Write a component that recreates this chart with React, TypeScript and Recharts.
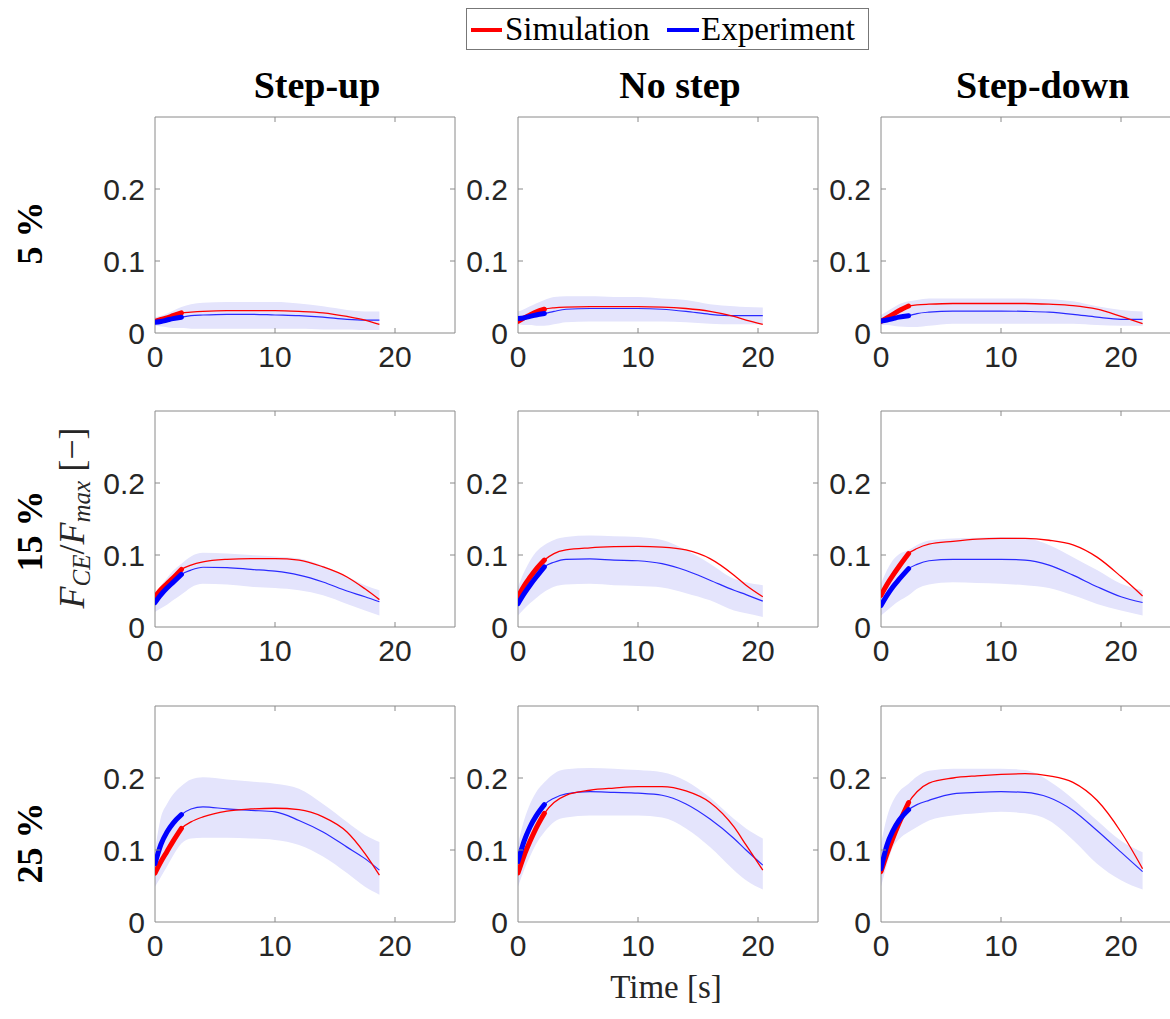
import React from 'react';
import { ComposedChart, Line, Area, XAxis, YAxis, ReferenceArea } from 'recharts';

// time grids per column (s)
const T_UP = [0, 0.5, 1, 1.5, 2.2, 3, 4, 6, 8, 10, 12, 14, 16, 17.5, 18.7];
const T_NO = [0, 0.5, 1, 1.5, 2.2, 3, 4, 6, 8, 10, 12, 14, 16, 18, 19, 20.4];
const T_DOWN = [0, 0.5, 1, 1.5, 2.3, 3, 4, 6, 8, 10, 12, 14, 16, 18, 20, 21.8];

// 5 %
const SIM_UP_5 = [0.016, 0.019, 0.021, 0.024, 0.028, 0.029, 0.030, 0.031, 0.031, 0.031, 0.030, 0.028, 0.023, 0.018, 0.012];
const EXP_UP_5 = [0.015, 0.016, 0.018, 0.020, 0.022, 0.024, 0.025, 0.026, 0.026, 0.025, 0.024, 0.022, 0.019, 0.018, 0.018];
const LO_UP_5 = [0.010, 0.009, 0.008, 0.007, 0.007, 0.006, 0.006, 0.006, 0.006, 0.006, 0.006, 0.005, 0.005, 0.004, 0.004];
const HI_UP_5 = [0.022, 0.024, 0.027, 0.031, 0.036, 0.040, 0.042, 0.043, 0.043, 0.043, 0.041, 0.037, 0.032, 0.030, 0.030];

const SIM_NO_5 = [0.016, 0.021, 0.025, 0.029, 0.033, 0.035, 0.036, 0.0365, 0.0365, 0.0365, 0.036, 0.034, 0.030, 0.023, 0.018, 0.012];
const EXP_NO_5 = [0.020, 0.021, 0.023, 0.025, 0.027, 0.030, 0.033, 0.034, 0.034, 0.034, 0.033, 0.030, 0.026, 0.024, 0.024, 0.024];
const LO_NO_5 = [0.012, 0.011, 0.011, 0.010, 0.010, 0.012, 0.015, 0.016, 0.016, 0.016, 0.016, 0.015, 0.013, 0.012, 0.012, 0.012];
const HI_NO_5 = [0.030, 0.033, 0.037, 0.041, 0.046, 0.050, 0.051, 0.051, 0.050, 0.050, 0.048, 0.046, 0.040, 0.037, 0.036, 0.0355];

const SIM_DOWN_5 = [0.016, 0.021, 0.026, 0.031, 0.0375, 0.039, 0.040, 0.041, 0.041, 0.041, 0.041, 0.040, 0.038, 0.033, 0.023, 0.013];
const EXP_DOWN_5 = [0.0165, 0.018, 0.020, 0.022, 0.024, 0.027, 0.029, 0.0305, 0.0305, 0.0305, 0.030, 0.029, 0.026, 0.022, 0.019, 0.019];
const LO_DOWN_5 = [0.0115, 0.011, 0.010, 0.009, 0.0085, 0.0085, 0.010, 0.013, 0.013, 0.013, 0.013, 0.013, 0.013, 0.011, 0.010, 0.010];
const HI_DOWN_5 = [0.025, 0.030, 0.035, 0.040, 0.044, 0.046, 0.048, 0.048, 0.048, 0.048, 0.048, 0.047, 0.044, 0.037, 0.032, 0.030];

// 15 %
const SIM_UP_15 = [0.042, 0.052, 0.060, 0.068, 0.080, 0.086, 0.0905, 0.094, 0.095, 0.095, 0.093, 0.0835, 0.0695, 0.053, 0.038];
const EXP_UP_15 = [0.034, 0.045, 0.054, 0.062, 0.073, 0.079, 0.083, 0.0825, 0.080, 0.0775, 0.072, 0.0625, 0.050, 0.042, 0.035];
const LO_UP_15 = [0.021, 0.026, 0.031, 0.037, 0.045, 0.055, 0.060, 0.059, 0.056, 0.054, 0.051, 0.044, 0.032, 0.023, 0.016];
const HI_UP_15 = [0.046, 0.058, 0.068, 0.078, 0.088, 0.098, 0.103, 0.102, 0.100, 0.098, 0.095, 0.085, 0.070, 0.058, 0.051];

const SIM_NO_15 = [0.042, 0.057, 0.069, 0.080, 0.093, 0.102, 0.107, 0.110, 0.1115, 0.112, 0.111, 0.107, 0.095, 0.072, 0.058, 0.042];
const EXP_NO_15 = [0.0325, 0.046, 0.058, 0.069, 0.0835, 0.090, 0.094, 0.0945, 0.093, 0.092, 0.088, 0.0785, 0.065, 0.051, 0.045, 0.036];
const LO_NO_15 = [0.016, 0.025, 0.033, 0.040, 0.049, 0.056, 0.059, 0.060, 0.058, 0.057, 0.055, 0.047, 0.037, 0.023, 0.019, 0.014];
const HI_NO_15 = [0.056, 0.076, 0.092, 0.104, 0.114, 0.121, 0.125, 0.127, 0.126, 0.125, 0.121, 0.107, 0.088, 0.067, 0.062, 0.058];

const SIM_DOWN_15 = [0.044, 0.059, 0.072, 0.084, 0.102, 0.109, 0.115, 0.119, 0.122, 0.123, 0.123, 0.1205, 0.114, 0.097, 0.070, 0.043];
const EXP_DOWN_15 = [0.030, 0.044, 0.056, 0.066, 0.081, 0.087, 0.092, 0.094, 0.094, 0.094, 0.093, 0.086, 0.072, 0.056, 0.042, 0.034];
const LO_DOWN_15 = [0.016, 0.023, 0.030, 0.036, 0.044, 0.053, 0.059, 0.062, 0.061, 0.060, 0.058, 0.054, 0.044, 0.032, 0.023, 0.016];
const HI_DOWN_15 = [0.060, 0.079, 0.093, 0.101, 0.107, 0.114, 0.120, 0.123, 0.124, 0.125, 0.1235, 0.114, 0.097, 0.079, 0.060, 0.051];

// 25 %
const SIM_UP_25 = [0.068, 0.084, 0.098, 0.112, 0.130, 0.139, 0.146, 0.154, 0.157, 0.158, 0.156, 0.146, 0.125, 0.095, 0.065];
const EXP_UP_25 = [0.081, 0.108, 0.125, 0.137, 0.149, 0.157, 0.160, 0.157, 0.155, 0.153, 0.141, 0.125, 0.104, 0.088, 0.072];
const LO_UP_25 = [0.049, 0.063, 0.077, 0.092, 0.109, 0.116, 0.117, 0.117, 0.116, 0.114, 0.107, 0.091, 0.068, 0.049, 0.038];
const HI_UP_25 = [0.100, 0.146, 0.164, 0.177, 0.189, 0.198, 0.201, 0.198, 0.195, 0.192, 0.185, 0.164, 0.139, 0.121, 0.111];

const SIM_NO_25 = [0.068, 0.092, 0.112, 0.130, 0.151, 0.166, 0.176, 0.183, 0.186, 0.188, 0.188, 0.182, 0.166, 0.132, 0.107, 0.072];
const EXP_NO_25 = [0.084, 0.112, 0.132, 0.147, 0.163, 0.172, 0.178, 0.181, 0.180, 0.179, 0.176, 0.164, 0.143, 0.116, 0.100, 0.079];
const LO_NO_25 = [0.049, 0.072, 0.091, 0.108, 0.125, 0.139, 0.145, 0.148, 0.148, 0.148, 0.145, 0.130, 0.104, 0.072, 0.058, 0.045];
const HI_NO_25 = [0.109, 0.141, 0.164, 0.180, 0.194, 0.206, 0.212, 0.214, 0.213, 0.211, 0.208, 0.196, 0.173, 0.143, 0.130, 0.116];

const SIM_DOWN_25 = [0.070, 0.095, 0.117, 0.137, 0.166, 0.181, 0.193, 0.200, 0.203, 0.205, 0.206, 0.203, 0.194, 0.169, 0.125, 0.074];
const EXP_DOWN_25 = [0.074, 0.107, 0.127, 0.141, 0.156, 0.163, 0.169, 0.178, 0.180, 0.181, 0.180, 0.173, 0.155, 0.127, 0.097, 0.070];
const LO_DOWN_25 = [0.049, 0.080, 0.104, 0.115, 0.125, 0.132, 0.141, 0.148, 0.151, 0.153, 0.151, 0.141, 0.114, 0.081, 0.058, 0.045];
const HI_DOWN_25 = [0.109, 0.146, 0.168, 0.181, 0.192, 0.202, 0.210, 0.213, 0.213, 0.213, 0.211, 0.196, 0.171, 0.141, 0.113, 0.097];

const COLUMN_TITLES = ['Step-up', 'No step', 'Step-down'];
const ROW_LABELS = ['5 %', '15 %', '25 %'];
const X_TICKS = [0, 10, 20];
const Y_TICKS = [0, 0.1, 0.2];
const THICK_END = 2.3;

const PLOT_W = 300;
const PLOT_H = 216;
const COL_X = [155, 518, 880.7];
const ROW_Y = [117, 411, 706];
const AXIS_GREY = '#8a8a8a';
const TICK_TEXT = '#262626';
const SANS = '"Liberation Sans", Arial, Helvetica, sans-serif';
const SERIF = '"Liberation Serif", "Times New Roman", serif';

function buildRows(t: number[], sim: number[], exp: number[], lo: number[], hi: number[]) {
  return t.map((x, i) => ({
    t: x,
    sim: sim[i],
    exp: exp[i],
    band: [lo[i], hi[i]],
    simThick: x <= THICK_END ? sim[i] : undefined,
    expThick: x <= THICK_END ? exp[i] : undefined,
  }));
}

const PANELS = [
  [
    buildRows(T_UP, SIM_UP_5, EXP_UP_5, LO_UP_5, HI_UP_5),
    buildRows(T_NO, SIM_NO_5, EXP_NO_5, LO_NO_5, HI_NO_5),
    buildRows(T_DOWN, SIM_DOWN_5, EXP_DOWN_5, LO_DOWN_5, HI_DOWN_5),
  ],
  [
    buildRows(T_UP, SIM_UP_15, EXP_UP_15, LO_UP_15, HI_UP_15),
    buildRows(T_NO, SIM_NO_15, EXP_NO_15, LO_NO_15, HI_NO_15),
    buildRows(T_DOWN, SIM_DOWN_15, EXP_DOWN_15, LO_DOWN_15, HI_DOWN_15),
  ],
  [
    buildRows(T_UP, SIM_UP_25, EXP_UP_25, LO_UP_25, HI_UP_25),
    buildRows(T_NO, SIM_NO_25, EXP_NO_25, LO_NO_25, HI_NO_25),
    buildRows(T_DOWN, SIM_DOWN_25, EXP_DOWN_25, LO_DOWN_25, HI_DOWN_25),
  ],
];

// inward ticks on bottom + top, label below
const XTick = (props: any) => {
  const { x, y, payload } = props;
  const edge = payload.value === 0;
  return (
    <g>
      {!edge && <line x1={x} x2={x} y1={y} y2={y - 5} stroke={AXIS_GREY} />}
      {!edge && <line x1={x} x2={x} y1={y - PLOT_H} y2={y - PLOT_H + 5} stroke={AXIS_GREY} />}
      <text x={x} y={y + 34} textAnchor="middle" fontSize={30} fontFamily={SANS} fill={TICK_TEXT}>
        {payload.value}
      </text>
    </g>
  );
};

// inward ticks on left + right, label left
const YTick = (props: any) => {
  const { x, y, payload } = props;
  const edge = payload.value === 0;
  return (
    <g>
      {!edge && <line x1={x} x2={x + 5} y1={y} y2={y} stroke={AXIS_GREY} />}
      {!edge && <line x1={x + PLOT_W} x2={x + PLOT_W - 5} y1={y} y2={y} stroke={AXIS_GREY} />}
      <text x={x - 10} y={y + 11} textAnchor="end" fontSize={30} fontFamily={SANS} fill={TICK_TEXT}>
        {payload.value}
      </text>
    </g>
  );
};

function Panel({ rows, left, top }: { rows: any[]; left: number; top: number }) {
  return (
    <div style={{ position: 'absolute', left: left - 60, top: top - 4 }}>
      <ComposedChart width={364} height={265} data={rows} margin={{ top: 4, right: 4, left: 0, bottom: 0 }}>
        <XAxis
          type="number"
          dataKey="t"
          domain={[0, 25]}
          ticks={X_TICKS}
          interval={0}
          tick={XTick}
          tickLine={false}
          axisLine={false}
          tickSize={0}
          tickMargin={0}
          height={45}
          allowDataOverflow
        />
        <YAxis
          type="number"
          domain={[0, 0.3]}
          ticks={Y_TICKS}
          interval={0}
          tick={YTick}
          tickLine={false}
          axisLine={false}
          tickSize={0}
          tickMargin={0}
          width={60}
          allowDataOverflow
        />
        <Area dataKey="band" type="monotone" stroke="none" fill="#e4e4fc" fillOpacity={1} isAnimationActive={false} />
        <Line dataKey="exp" type="monotone" stroke="#2a2aff" strokeWidth={1.2} dot={false} isAnimationActive={false} />
        <Line dataKey="sim" type="monotone" stroke="#ff0000" strokeWidth={1.3} dot={false} isAnimationActive={false} />
        <Line dataKey="simThick" type="monotone" stroke="#ff0000" strokeWidth={5} strokeLinecap="round" dot={false} isAnimationActive={false} />
        <Line dataKey="expThick" type="monotone" stroke="#0000ff" strokeWidth={5} strokeLinecap="round" dot={false} isAnimationActive={false} />
        <ReferenceArea x1={0} x2={25} y1={0} y2={0.3} fill="none" stroke={AXIS_GREY} strokeWidth={1} ifOverflow="visible" />
      </ComposedChart>
    </div>
  );
}

export default function App() {
  return (
    <div style={{ position: 'absolute', left: 0, top: 0, width: 1170, height: 1019, overflow: 'hidden', background: '#fff' }}>
      {PANELS.map((row, r) =>
        row.map((rows, c) => <Panel key={`${r}-${c}`} rows={rows} left={COL_X[c]} top={ROW_Y[r]} />)
      )}
      <svg width={1170} height={1019} style={{ position: 'absolute', left: 0, top: 0, pointerEvents: 'none' }}>
        {/* legend */}
        <rect x={466.5} y={8.5} width={402} height={41} fill="#fff" stroke="#777" strokeWidth={1} />
        <line x1={471} x2={502} y1={30} y2={30} stroke="#ff0000" strokeWidth={4} />
        <text x={505} y={40} fontSize={33} fontFamily={SERIF} fill="#000">Simulation</text>
        <line x1={667} x2={699} y1={30} y2={30} stroke="#0000ff" strokeWidth={4} />
        <text x={701} y={40} fontSize={33} fontFamily={SERIF} fill="#000">Experiment</text>

        {COLUMN_TITLES.map((title, c) => (
          <text key={title} x={COL_X[c] + PLOT_W / 2 + 12} y={98} textAnchor="middle" fontSize={38} fontWeight="bold" fontFamily={SERIF} fill="#000">
            {title}
          </text>
        ))}

        {ROW_LABELS.map((label, r) => {
          const cy = [233, 531, 843][r];
          return (
            <text key={label} x={42} y={cy} transform={`rotate(-90 42 ${cy})`} textAnchor="middle" fontSize={36} fontWeight="bold" fontFamily={SERIF} fill="#000">
              {label}
            </text>
          );
        })}

        <text x={84} y={518} transform="rotate(-90 84 518)" textAnchor="middle" fontSize={36} fontFamily={SERIF} fill="#262626">
          <tspan fontStyle="italic">F</tspan>
          <tspan fontStyle="italic" fontSize={25} dy={6}>CE</tspan>
          <tspan dy={-6}>/</tspan>
          <tspan fontStyle="italic">F</tspan>
          <tspan fontStyle="italic" fontSize={25} dy={6}>max</tspan>
          <tspan dy={-6}> [−]</tspan>
        </text>

        <text x={666} y={998} textAnchor="middle" fontSize={33} fontFamily={SERIF} fill="#262626">Time [s]</text>
      </svg>
    </div>
  );
}
